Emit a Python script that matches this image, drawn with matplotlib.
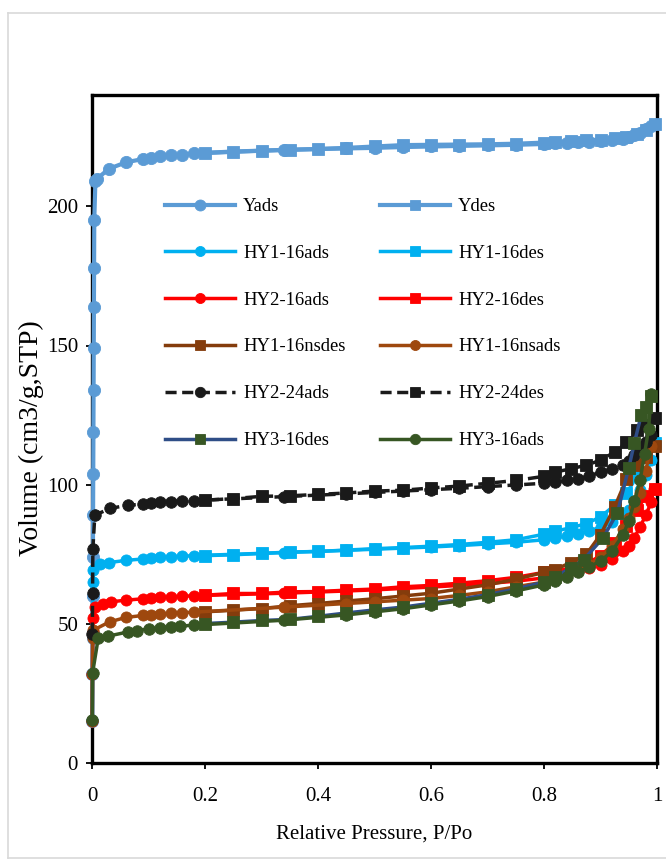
import matplotlib
matplotlib.use("Agg")
import matplotlib.pyplot as plt
from matplotlib.lines import Line2D

plt.rcParams['font.family'] = ['Liberation Serif', 'DejaVu Serif']

# ---------------- data ----------------
# Y
y_ads_p = [0.0005, 0.0008, 0.001, 0.0013, 0.0016, 0.0019, 0.0022, 0.0025, 0.0028, 0.0031, 0.0034, 0.0037,
           0.004, 0.006, 0.0095, 0.03, 0.06, 0.09, 0.105, 0.12, 0.14, 0.16, 0.18, 0.34, 0.45, 0.5, 0.55, 0.6,
           0.65, 0.7, 0.75, 0.8, 0.82, 0.84, 0.86, 0.88, 0.9, 0.92, 0.94, 0.95, 0.96, 0.97, 0.98, 0.99]
y_ads_v = [15, 32, 45, 60, 74, 89, 104, 119, 134, 149, 164, 178,
           195, 209, 210, 213.5, 215.8, 217, 217.5, 218, 218.3, 218.6, 219, 220.3, 220.8, 221, 221.3, 221.5,
           221.7, 221.9, 222.1, 222.4, 222.6, 222.8, 223, 223.2, 223.5, 223.8, 224.3, 224.8, 225.5, 226.5, 227.8, 229]
des_p = [0.997, 0.98, 0.965, 0.946, 0.925, 0.9, 0.875, 0.847, 0.82, 0.8, 0.75, 0.7, 0.65, 0.6, 0.55, 0.5,
         0.45, 0.4, 0.35, 0.3, 0.25, 0.2]
y_des_v = [229.5, 227.5, 226, 225, 224.5, 224, 223.7, 223.4, 223.1, 222.9, 222.5, 222.3, 222.2, 222.1, 222,
           221.5, 221, 220.6, 220.3, 220, 219.7, 219.2]

# HY1-16
hy1_ads_p = [0.0005, 0.0008, 0.0012, 0.0018, 0.0025, 0.015, 0.03, 0.06, 0.09, 0.105, 0.12, 0.14, 0.16, 0.18,
             0.34, 0.45, 0.5, 0.55, 0.6, 0.65, 0.7, 0.75, 0.8, 0.82, 0.84, 0.86, 0.88, 0.9, 0.92, 0.94, 0.95,
             0.96, 0.97, 0.98, 0.99]
hy1_ads_v = [15, 32, 47, 65, 69.3, 71.5, 72, 72.8, 73.3, 73.6, 73.9, 74.1, 74.3, 74.5,
             75.6, 76.4, 76.8, 77.2, 77.6, 78.1, 78.7, 79.3, 80.2, 80.8, 81.5, 82.3, 83.3, 84.8, 86.5, 89, 91,
             94, 98, 103.5, 109]
hy1_des_v = [115, 110, 103, 97, 92.6, 88.4, 86, 84.5, 83.3, 82.2, 80.2, 79.3, 78.5, 77.9, 77.4, 77,
             76.5, 76, 75.8, 75.3, 74.8, 74.5]

# HY2-16
hy2_ads_p = [0.0005, 0.0008, 0.0012, 0.002, 0.006, 0.02, 0.033, 0.06, 0.09, 0.105, 0.12, 0.14, 0.16, 0.18,
             0.34, 0.45, 0.5, 0.55, 0.6, 0.65, 0.7, 0.75, 0.8, 0.82, 0.84, 0.86, 0.88, 0.9, 0.92, 0.94, 0.95,
             0.96, 0.97, 0.98, 0.99, 0.994]
hy2_ads_v = [15, 32, 47, 52, 56, 57.3, 57.9, 58.5, 59, 59.2, 59.5, 59.7, 59.9, 60.1,
             61, 61.8, 62.2, 62.7, 63.2, 63.8, 64.5, 65.3, 66.5, 67.2, 68, 69, 70, 71.2, 73.3, 76, 78,
             81, 84.8, 89, 93.8, 98.6]
hy2_des_v = [98.6, 96, 91, 85, 79, 74.5, 71.5, 70, 69, 68.5, 66.7, 65.5, 64.6, 63.8, 63.3, 62.5,
             62.1, 61.6, 61.5, 60.9, 60.9, 60.3]

# HY1-16ns
ns_ads_p = [0.0005, 0.0008, 0.0012, 0.002, 0.031, 0.06, 0.09, 0.105, 0.12, 0.14, 0.16, 0.18,
            0.34, 0.45, 0.5, 0.55, 0.6, 0.65, 0.7, 0.75, 0.8, 0.82, 0.84, 0.86, 0.88, 0.9, 0.92, 0.94, 0.95,
            0.96, 0.97, 0.98, 0.99]
ns_ads_v = [15, 32, 45, 47.7, 50.7, 52.3, 53, 53.3, 53.5, 53.8, 54, 54.2,
            56, 57.3, 57.9, 58.5, 59.1, 60.2, 61.5, 63.3, 65, 66, 67.5, 69, 71, 74, 78, 84, 88,
            92, 97, 105, 114]
ns_des_v = [114, 110, 107, 102, 92, 82, 75, 72, 69.5, 68.5, 66, 64, 62.5, 61, 60, 59,
            58.2, 57.3, 56.5, 55.5, 54.9, 54.3]

# HY2-24
hy224_ads_p = [0.0006, 0.001, 0.0015, 0.005, 0.032, 0.064, 0.09, 0.105, 0.12, 0.14, 0.16, 0.18,
               0.34, 0.45, 0.5, 0.55, 0.6, 0.65, 0.7, 0.75, 0.8, 0.82, 0.84, 0.86, 0.88, 0.9, 0.92, 0.94, 0.95,
               0.96, 0.97, 0.98, 0.99]
hy224_ads_v = [46.5, 61, 77, 89, 91.5, 92.6, 93, 93.3, 93.6, 93.9, 94.1, 94.3,
               95.7, 96.7, 97.2, 97.7, 98.2, 98.7, 99.3, 99.9, 100.5, 101, 101.5, 102.2, 103, 104.6, 105.5, 107,
               108.5, 110.5, 113, 115.5, 118]
hy224_des_v = [123.8, 121.5, 119.5, 115.3, 111.7, 108.8, 107, 105.7, 104.5, 103, 101.5, 100.5, 99.5, 98.8,
               98, 97.7, 97, 96.5, 96, 95.8, 95, 94.4]

# HY3-16
hy3_ads_p = [0.0005, 0.001, 0.011, 0.029, 0.064, 0.08, 0.1, 0.12, 0.14, 0.155, 0.18,
             0.34, 0.45, 0.5, 0.55, 0.6, 0.65, 0.7, 0.75, 0.8, 0.82, 0.84, 0.86, 0.88, 0.9, 0.92, 0.94, 0.95,
             0.96, 0.97, 0.978, 0.985, 0.99]
hy3_ads_v = [15.4, 32.3, 44.8, 45.6, 47.1, 47.6, 48.2, 48.5, 49, 49.2, 49.5,
             51.3, 53.2, 54.3, 55.4, 56.8, 58.2, 59.8, 61.8, 64, 65.5, 67, 68.5, 70.5, 72.5, 76, 82, 87,
             94, 101.6, 111, 120, 132.7]
hy3_des_p = [0.99, 0.98, 0.972, 0.96, 0.95, 0.93, 0.905, 0.87, 0.847, 0.82, 0.8, 0.75, 0.7, 0.65, 0.6,
             0.55, 0.5, 0.45, 0.4, 0.35, 0.3, 0.25, 0.2]
hy3_des_v = [132, 128, 125, 115, 106, 90, 81, 73, 70, 67, 65, 62.5, 60.5, 58.8, 57.4,
             56, 55, 53.9, 52.7, 51.6, 51.2, 50.6, 50.1]

x_ticks = [0, 0.2, 0.4, 0.6, 0.8, 1.0]
x_tick_labels = ['0', '0.2', '0.4', '0.6', '0.8', '1']
y_ticks = [0, 50, 100, 150, 200]

# ---------------- figure ----------------
W, H = 666, 868
fig = plt.figure(figsize=(W / 100, H / 100), dpi=100)
ax = fig.add_axes([92 / W, 1 - 763 / H, (657 - 92) / W, (763 - 95) / H])

# light frame of the chart area
for (xs, ys) in [((7.5, 7.5), (13, 858)), ((7.5, 700), (13, 13)), ((7.5, 700), (858, 858))]:
    fig.add_artist(Line2D([x / W for x in xs], [1 - y / H for y in ys], color='#D9D9D9', lw=1.2))

c_y = '#5B9BD5'
c_hy1 = '#00B0F0'
c_hy2 = '#FF0000'
c_nsd = '#843C0C'
c_nsa = '#9E480E'
c_blk = '#1A1A1A'
c_navy = '#2F4E87'
c_grn = '#375623'

lw = 2.5
common = dict(clip_on=False, markeredgewidth=0.6)

def plot(p, v, color, marker, ms, label, z, mfc=None, **kw):
    mfc = mfc or color
    return ax.plot(p, v, color=color, marker=marker, markersize=ms, markerfacecolor=mfc,
                   markeredgecolor=mfc, lw=kw.pop('lw', lw), label=label, zorder=z, **common, **kw)[0]

h = {}
h['Yads'] = plot(y_ads_p, y_ads_v, c_y, 'o', 8.8, 'Yads', 3, lw=3.0)
h['Ydes'] = plot(des_p, y_des_v, c_y, 's', 8.2, 'Ydes', 3.1, lw=3.0)
h['HY1-16ads'] = plot(hy1_ads_p, hy1_ads_v, c_hy1, 'o', 8, 'HY1-16ads', 3.2)
h['HY1-16des'] = plot(des_p, hy1_des_v, c_hy1, 's', 8, 'HY1-16des', 3.3)
h['HY2-16ads'] = plot(hy2_ads_p, hy2_ads_v, c_hy2, 'o', 8, 'HY2-16ads', 3.4)
h['HY2-16des'] = plot(des_p, hy2_des_v, c_hy2, 's', 8, 'HY2-16des', 3.5)
h['HY1-16nsdes'] = plot(des_p, ns_des_v, c_nsd, 's', 8, 'HY1-16nsdes', 3.6)
h['HY1-16nsads'] = plot(ns_ads_p, ns_ads_v, c_nsa, 'o', 8, 'HY1-16nsads', 3.7)
h['HY2-24ads'] = plot(hy224_ads_p, hy224_ads_v, c_blk, 'o', 8.3, 'HY2-24ads', 3.8,
                      dashes=(3.2, 1.6), dash_capstyle='butt')
h['HY2-24des'] = plot(des_p, hy224_des_v, c_blk, 's', 8.2, 'HY2-24des', 3.9,
                      dashes=(3.2, 1.6), dash_capstyle='butt')
h['HY3-16des'] = plot(hy3_des_p, hy3_des_v, c_navy, 's', 8.2, 'HY3-16des', 4.0, mfc=c_grn)
h['HY3-16ads'] = plot(hy3_ads_p, hy3_ads_v, c_grn, 'o', 8.3, 'HY3-16ads', 4.1)

ax.set_xlim(0, 1)
ax.set_ylim(0, 240)
ax.set_xticks(x_ticks)
ax.set_xticklabels(x_tick_labels)
ax.set_yticks(y_ticks)
ax.tick_params(direction='out', length=4, width=1.3, labelsize=15, colors='black')
ax.tick_params(axis='x', pad=13)
ax.tick_params(axis='y', pad=6)
for s in ax.spines.values():
    s.set_linewidth(2.4)
    s.set_color('black')
    s.set_zorder(2.5)

fig.text(374.5 / W, 1 - 839 / H, 'Relative Pressure, P/Po', ha='center', va='baseline', fontsize=15)
fig.text(31 / W, 1 - 438 / H, 'Volume (cm3/g,STP)', ha='center', va='center', rotation=90, fontsize=20)

order = ['Yads', 'HY1-16ads', 'HY2-16ads', 'HY1-16nsdes', 'HY2-24ads', 'HY3-16des',
         'Ydes', 'HY1-16des', 'HY2-16des', 'HY1-16nsads', 'HY2-24des', 'HY3-16ads']
leg = ax.legend([h[k] for k in order], order, ncol=2, frameon=False, fontsize=13.4,
                loc='upper left', bbox_to_anchor=(165 / W, 1 - 198 / H), bbox_transform=fig.transFigure,
                borderpad=0, borderaxespad=0, handlelength=3.75, handletextpad=0.45,
                columnspacing=1.85, labelspacing=1.6, markerscale=0.9)
leg.set_zorder(10)

fig.savefig('out.png', dpi=100)
